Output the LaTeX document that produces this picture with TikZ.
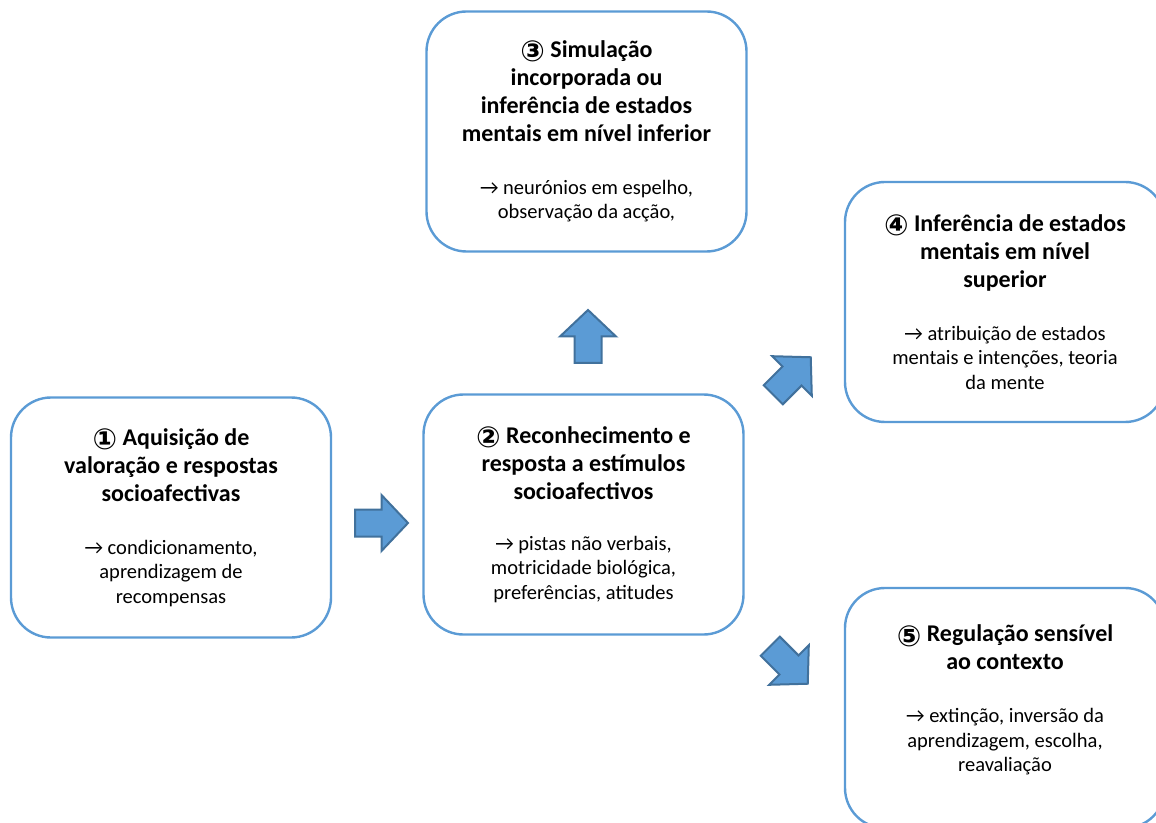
\documentclass[tikz,border=0pt]{standalone}
\usepackage{fontspec}
\setmainfont{Carlito}
\newfontfamily\circfont{DejaVu Sans}
\usepackage{tikz}
\usetikzlibrary{positioning}

\definecolor{boxblue}{HTML}{5B9BD5}
\definecolor{arrowedge}{HTML}{41719C}

\newcommand{\numcirc}[1]{\raisebox{-2.2pt}{\circfont\fontsize{14.5}{14}\selectfont #1}}
\newcommand{\ttl}[1]{{\bfseries\fontsize{12}{14}\selectfont #1}}

\tikzset{
  stage/.style={draw=boxblue, line width=1.2pt, rounded corners=20pt, fill=white,
    minimum width=160pt, minimum height=120pt, inner sep=0pt, align=center,
    font=\fontsize{10.25}{12.1}\selectfont},
  arrowline/.style={fill=boxblue, draw=arrowedge, line width=1pt, line join=miter},
  blockarrow/.pic={
    \draw[arrowline] (-26.5,-13.5) -- (0,-13.5) -- (0,-28) -- (26.5,0)
      -- (0,28) -- (0,13.5) -- (-26.5,13.5) -- cycle;
  }
}

\begin{document}
\begin{tikzpicture}[x=0.5pt, y=-0.5pt]

\useasboundingbox (0,0) rectangle (1156,823);
\clip (0,0) rectangle (1156,823);

% stage 1
\node[stage] (acq) at (171,517.5) {\ttl{\numcirc{①} Aquisição de}\\[1.9pt]
  \ttl{valoração e respostas}\\[1.9pt]
  \ttl{socioafectivas}\\[14.5pt]
  → condicionamento,\\ aprendizagem de\\ recompensas};

% stage 2
\node[stage] (rec) at (583.5,514.5) {\ttl{\numcirc{②} Reconhecimento e}\\[1.9pt]
  \ttl{resposta a estímulos}\\[1.9pt]
  \ttl{socioafectivos}\\[13.5pt]
  → pistas não verbais,\\ motricidade biológica,\\ preferências, atitudes};

% stage 3
\node[stage] (sim) at (586.5,131.5) {\ttl{\numcirc{③} Simulação}\\[1.9pt]
  \ttl{incorporada ou}\\[1.9pt]
  \ttl{inferência de estados}\\[1.9pt]
  \ttl{mentais em nível inferior}\\[14.5pt]
  → neurónios em espelho,\\ observação da acção,};

% stage 4
\node[stage] (sup) at (1005,302) {\ttl{\numcirc{④} Inferência de estados}\\[1.9pt]
  \ttl{mentais em nível}\\[1.9pt]
  \ttl{superior}\\[14.5pt]
  → atribuição de estados\\ mentais e intenções, teoria\\ da mente};

% stage 5
\node[stage, text depth=10pt] (reg) at (1005,708) {\ttl{\numcirc{⑤} Regulação sensível}\\[1.9pt]
  \ttl{ao contexto}\\[14.5pt]
  → extinção, inversão da\\ aprendizagem, escolha,\\ reavaliação};

% block arrows
\pic (toRec) at (381.5,523) {blockarrow};
\pic[rotate=90] (toSim) at (588,336.5) {blockarrow};
\pic[rotate=45] (toSup) at (792,376) {blockarrow};
\pic[rotate=-45] (toReg) at (789,665) {blockarrow};

\end{tikzpicture}
\end{document}
